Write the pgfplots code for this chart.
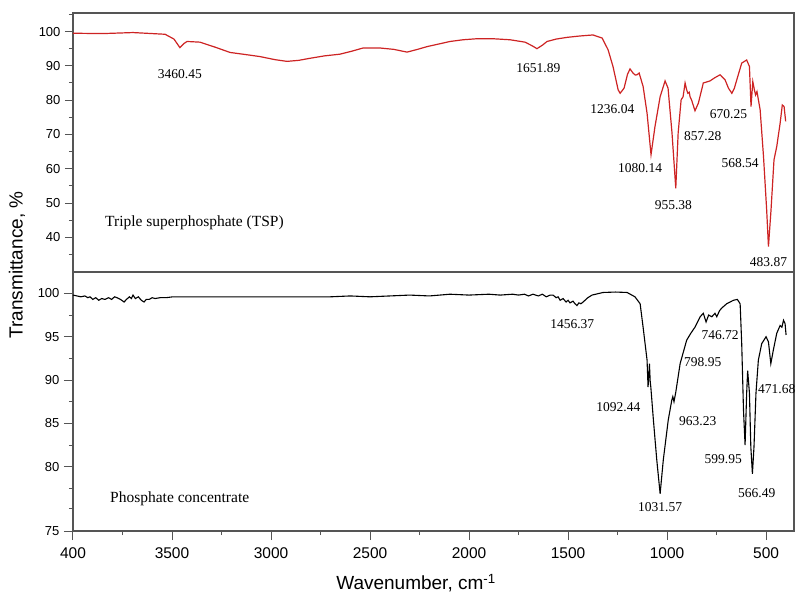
\documentclass[border=0pt]{standalone}
\usepackage{fontspec}
\setmainfont{Liberation Serif}
\newfontfamily\arial{Liberation Sans}
\usepackage{pgfplots}
\pgfplotsset{compat=1.18}
\definecolor{tspred}{RGB}{205,35,35}
\definecolor{frame}{RGB}{85,85,85}
\tikzset{lab/.style={font=\fontsize{13.5}{15}\selectfont, inner sep=1pt}}

\pgfplotsset{ftir/.style={scale only axis, width=721pt, height=259pt,
  x dir=reverse, xmin=359, xmax=4000, clip=false,
  axis line style={frame, line width=1.1pt},
  tick style={frame, line width=1pt}, tick align=outside,
  ytick pos=left, xtick pos=bottom,
  major tick length=8pt, minor tick length=4pt,
  /pgf/number format/assume math mode=true,
  yticklabel style={font=\arial\fontsize{13}{15}\selectfont, xshift=-1pt},
  xticklabel style={font=\arial\fontsize{15.5}{17}\selectfont, yshift=-4pt}}}

\begin{document}
\begin{tikzpicture}
\begin{axis}[ftir, name=top, at={(0,0)}, anchor=north west,
  ymin=29.9, ymax=105.4, ytick={40,50,...,100}, minor ytick={35,45,...,105},
  xtick=\empty]
\addplot[tspred, line width=1.2pt] coordinates {
(4000,99.5)(3850,99.4)(3697,99.7)(3600,99.4)(3535,99.2)(3490,97.8)(3460,95.3)
(3440,96.5)(3424,97.1)(3359,96.9)(3280,95.4)(3207,93.9)(3130,93.3)(3056,92.7)
(2980,91.8)(2919,91.3)(2860,91.6)(2803,92.2)(2730,92.9)(2652,93.4)(2590,94.3)
(2535,95.2)(2450,95.2)(2380,94.8)(2313,94.0)(2260,94.8)(2212,95.6)(2150,96.4)
(2096,97.1)(2030,97.6)(1960,97.9)(1880,97.9)(1793,97.6)(1717,96.9)(1680,95.8)
(1657,95.0)(1630,96.0)(1606,97.1)(1560,97.8)(1505,98.3)(1440,98.7)(1374,99.0)
(1328,98.1)(1298,94.7)(1273,89.8)(1247,83.0)(1237,82.0)(1217,83.5)(1200,87.5)
(1187,89.1)(1172,87.9)(1160,87.3)(1152,87.4)(1141,87.9)(1121,84.0)(1101,76.2)
(1081,64.1)(1061,72.3)(1035,81.0)(1010,85.6)(995,83.5)(975,70.4)(956,54.3)
(944,70.4)(929,80.1)(919,81.0)(909,85.0)(901,83.0)(895,82.0)(888,82.3)(884,81.0)
(876,80.0)(859,76.9)(842,79.1)(817,85.0)(783,85.6)(760,86.5)(732,87.4)(707,85.9)
(690,83.5)(673,82.0)(660,83.5)(648,85.9)(623,90.8)(598,91.7)(584,89.8)(576,78.1)
(567,85.4)(559,83.0)(553,81.5)(546,82.5)(530,77.2)(513,63.6)(497,48.0)(488,37.3)
(475,48.0)(460,62.6)(446,66.5)(429,73.3)(418,78.6)(409,78.1)(401,73.8)};
\node[lab] at (axis cs:3460,87.7) {3460.45};
\node[lab] at (axis cs:1650,89.3) {1651.89};
\node[lab] at (axis cs:1276,77.5) {1236.04};
\node[lab] at (axis cs:1136,60.2) {1080.14};
\node[lab] at (axis cs:968,49.5) {955.38};
\node[lab] at (axis cs:820,69.6) {857.28};
\node[lab] at (axis cs:690,76.0) {670.25};
\node[lab] at (axis cs:631,61.6) {568.54};
\node[lab] at (axis cs:488,32.9) {483.87};
\node[anchor=west, font=\fontsize{15.5}{17}\selectfont] at (axis cs:3855,44.3)
  {Triple superphosphate (TSP)};
\end{axis}

\begin{axis}[ftir, name=bot, at={(0,-259pt)}, anchor=north west,
  ymin=72.6, ymax=102.46, ytick={72.6,80,85,90,95,100},
  yticklabels={75,80,85,90,95,100},
  minor ytick={97.5,92.5,87.5,82.5,77.55,75.2},
  xtick={4000,3500,...,500}, xticklabels={400,3500,3000,2500,2000,1500,1000,500},
  minor xtick={3750,3250,...,750}, major tick length=9pt]
\addplot[black, line width=1.1pt] coordinates {
(4000,99.8)(3960,99.6)(3940,99.7)(3925,99.5)(3914,99.6)(3900,99.3)(3885,99.5)
(3870,99.2)(3855,99.4)(3838,99.3)(3820,99.5)(3805,99.3)(3790,99.6)(3778,99.5)
(3760,99.3)(3742,99.0)(3730,99.3)(3715,99.6)(3705,99.4)(3697,99.8)(3685,99.4)
(3670,99.6)(3655,99.2)(3641,99.0)(3630,99.3)(3615,99.3)(3600,99.5)(3586,99.4)
(3560,99.5)(3530,99.5)(3495,99.6)(3400,99.6)(3000,99.6)(2700,99.6)(2600,99.7)
(2500,99.6)(2400,99.7)(2300,99.8)(2200,99.7)(2096,99.9)(2000,99.8)(1900,99.9)
(1843,99.8)(1780,99.9)(1750,99.8)(1720,99.9)(1700,99.7)(1677,99.9)(1650,99.7)
(1630,99.9)(1610,99.6)(1590,99.8)(1576,99.8)(1560,99.5)(1550,99.6)(1540,99.2)
(1525,99.4)(1510,99.0)(1500,99.2)(1490,98.9)(1475,99.1)(1465,98.8)(1455,98.6)
(1445,98.9)(1435,98.8)(1424,99.0)(1400,99.5)(1379,99.8)(1323,100.1)(1260,100.15)
(1202,100.1)(1162,99.6)(1136,98.8)(1121,96.1)(1101,92.3)(1096,89.2)(1092,90.5)
(1089,91.9)(1085,89.8)(1082,89.2)(1069,85.4)(1052,80.8)(1035,76.9)(1019,80.8)
(994,85.4)(976,87.7)(971,88.1)(965,87.5)(956,88.6)(934,91.9)(901,94.6)(880,95.4)
(859,96.1)(833,97.3)(817,97.7)(803,96.7)(790,97.5)(774,97.3)(758,97.7)(749,97.3)
(735,98.0)(724,98.3)(699,98.8)(665,99.2)(645,99.3)(631,98.8)(623,94.2)(614,86.5)
(606,82.5)(598,88.5)(593,91.1)(584,88.5)(577,82.3)(569,79.2)(561,82.3)(551,88.5)
(539,92.3)(522,94.2)(500,95.0)(488,94.4)(476,91.9)(463,93.5)(446,95.4)(429,96.3)
(420,96.1)(412,96.9)(404,96.5)(399,95.2)};
\node[lab] at (axis cs:1479,96.5) {1456.37};
\node[lab] at (axis cs:732,95.2) {746.72};
\node[lab] at (axis cs:820,92.1) {798.95};
\node[lab] at (axis cs:1246,86.9) {1092.44};
\node[lab] at (axis cs:845,85.3) {963.23};
\node[lab] at (axis cs:446,89.0) {471.68};
\node[lab] at (axis cs:716,80.9) {599.95};
\node[lab] at (axis cs:547,77.0) {566.49};
\node[lab] at (axis cs:1035,75.3) {1031.57};
\node[anchor=west, font=\fontsize{15.5}{17}\selectfont] at (axis cs:3830,76.3)
  {Phosphate concentrate};
\end{axis}

\node[rotate=90, font=\arial\fontsize{19}{21}\selectfont] at (-56pt,-252pt)
  {Transmittance, \%};
\node[font=\arial\fontsize{19}{21}\selectfont] at (343pt,-570pt)
  {Wavenumber, cm\textsuperscript{-1}};
\pgfresetboundingbox
\path[use as bounding box] (-73pt,13pt) rectangle (722pt,-579pt);
\end{tikzpicture}
\end{document}
